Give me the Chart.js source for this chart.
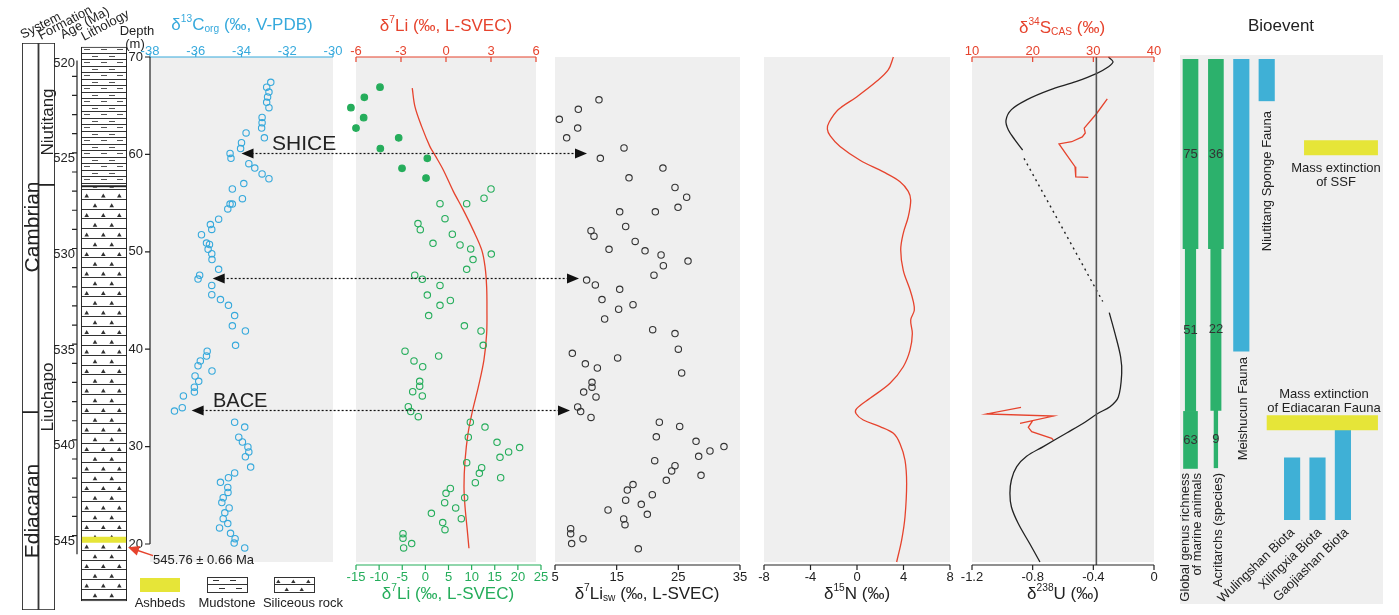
<!DOCTYPE html>
<html><head><meta charset="utf-8">
<script src="https://cdn.jsdelivr.net/npm/chart.js@4.4.1/dist/chart.umd.min.js"></script>
<style>
html,body{margin:0;padding:0;background:#fff;width:1399px;height:615px;overflow:hidden;font-family:"Liberation Sans",Arial,sans-serif;}
#root{position:relative;width:1399px;height:615px;}
canvas{position:absolute;}
.t{position:absolute;white-space:nowrap;line-height:1;color:#222;}
.t sup,.t sub{font-size:60%;line-height:0;}
.t sup{vertical-align:0.75em;}
.t sub{vertical-align:-0.25em;}
</style></head><body><div id="root"></div>
<script>
// ---------------- DATA ----------------
const depthTicks = [20, 30, 40, 50, 60, 70];
const ageTicks = [520, 525, 530, 535, 540, 545];
const ageMinorTicks = [521,522,523,524,525,526,527,528,529,530,531,532,533,534,535,536,537,538,539,540,541,542,543,544,545];
const c13Ticks = [-38, -36, -34, -32, -30];
const li7TopTicks = [-6, -3, 0, 3, 6];
const li7BottomTicks = [-15, -10, -5, 0, 5, 10, 15, 20, 25];
const liSwTicks = [5, 15, 25, 35];
const n15Ticks = [-8, -4, 0, 4, 8];
const s34Ticks = [10, 20, 30, 40];
const uTicks = [-1.2, -0.8, -0.4, 0];

const systemNames = ['Cambrian', 'Ediacaran'];
const systemRanges = [[33.55, 71.44], [13.22, 33.55]];
const formationNames = ['Niutitang', 'Liuchapo'];
const formationRanges = [[56.86, 71.44], [13.22, 56.86]];
const lithologyNames = ['Mudstone', 'Siliceous rock'];
const lithologyRanges = [[56.8, 71.44], [13.22, 56.8]];
const ashbedRange = [19.35, 20.0];
const ashbedAgeLabel = '545.76 ± 0.66 Ma';

const c13Values = [-32.72,-32.9,-32.8,-32.86,-32.9,-32.8,-33.1,-33.1,-33.12,-33.8,-33.0,-34.0,-34.04,-34.5,-34.46,-33.68,-33.42,-33.1,-32.8,-33.9,-34.4,-33.96,-34.4,-34.5,-34.6,-35.0,-35.36,-35.3,-35.75,-35.53,-35.4,-35.46,-35.3,-35.29,-35.0,-35.83,-35.9,-35.3,-35.3,-34.92,-34.57,-34.3,-34.4,-33.83,-34.26,-35.5,-35.53,-35.8,-35.9,-35.29,-36.03,-35.87,-36.06,-36.06,-36.54,-36.59,-36.93,-34.3,-33.86,-34.12,-33.96,-33.72,-33.68,-33.83,-33.6,-34.3,-34.57,-34.92,-34.6,-34.59,-34.8,-34.86,-34.54,-34.73,-34.8,-34.6,-34.96,-34.48,-34.28,-34.32,-33.86];
const c13Depths = [67.4,66.9,66.4,65.9,65.35,64.8,63.8,63.25,62.7,62.2,61.7,61.2,60.6,60.1,59.6,59.05,58.6,58.0,57.5,57.0,56.45,55.45,54.9,54.9,54.4,53.35,52.8,52.3,51.75,50.9,50.75,50.25,49.8,49.2,48.2,47.6,47.2,46.55,45.6,45.1,44.5,43.45,42.4,41.87,40.4,39.8,39.3,38.8,38.3,37.76,37.25,36.7,36.1,35.6,35.2,34.0,33.65,32.5,32.0,30.97,30.47,29.96,29.45,28.96,27.9,27.3,26.8,26.33,25.8,25.3,24.75,24.25,23.7,23.2,22.6,22.1,21.65,21.1,20.55,20.1,19.6];

const li7FilledValues = [-9.81,-13.2,-16.1,-13.34,-15.0,-5.77,-9.74,0.42,-5.05,0.14];
const li7FilledDepths = [66.9,65.86,64.8,63.77,62.7,61.7,60.6,59.6,58.57,57.57];
const li7OpenValues = [14.19,12.68,3.16,8.93,4.24,-1.6,-1.1,5.83,1.65,7.49,9.8,14.25,10.3,8.93,-2.3,-0.66,3.16,0.42,5.4,3.16,0.71,8.43,12.03,12.5,-4.4,2.87,-2.46,-0.58,-1.23,-1.23,-2.74,-0.66,-3.69,-3.17,-1.53,9.72,12.89,9.28,15.49,20.38,18.0,16.13,8.93,12.17,11.67,16.28,10.8,5.4,4.46,8.5,4.17,6.55,1.3,7.77,3.75,4.24,-4.84,-4.84,-2.96,-4.7];
const li7OpenDepths = [56.45,55.5,54.94,54.94,53.4,52.9,52.27,51.8,50.87,50.7,50.3,49.77,49.2,48.2,47.6,47.18,46.55,45.56,45.0,44.5,43.45,42.4,41.87,40.4,39.8,39.3,38.8,38.2,36.7,36.2,35.64,35.2,34.1,33.6,33.07,32.5,32.0,30.96,30.44,29.9,29.45,28.9,28.35,27.84,27.26,26.8,26.3,25.7,25.2,24.75,24.24,23.7,23.15,22.6,22.2,21.47,21.06,20.6,20.04,19.6];
const li7CurveValues = [-2.25,-2.07,-1.62,-1.07,-0.73,-0.18,0.49,1.15,1.82,2.38,2.6,2.71,2.73,2.71,2.53,2.16,1.78,1.47,1.27,1.2,1.27,1.42,1.53];
const li7CurveDepths = [66.8,64.9,62.85,60.8,59.9,58.4,56.2,54.3,52.2,50.2,48.5,46.4,44.0,41.6,38.9,36.15,33.76,31.36,28.6,25.9,23.8,21.4,19.56];

const liSwValues = [12.13,8.78,5.7,8.68,6.89,16.19,12.35,22.5,17.0,24.46,26.35,24.95,15.49,21.27,16.46,10.84,11.32,18.0,13.76,19.6,22.2,26.57,22.57,21.05,10.13,11.54,15.49,12.62,17.65,15.32,13.05,20.84,24.46,25.0,7.81,15.16,9.92,11.87,25.54,11.0,11.0,9.65,11.65,8.68,9.16,10.84,21.92,25.22,21.43,27.87,32.4,30.13,28.3,21.17,24.46,23.92,28.68,23.05,17.65,16.73,20.78,16.46,18.99,13.6,19.97,16.14,16.35,7.54,7.54,9.54,7.7,18.51];
const liSwDepths = [65.6,64.63,63.6,62.7,61.7,60.66,59.6,58.6,57.6,56.6,55.6,54.57,54.1,54.1,52.6,52.17,51.6,51.07,50.25,50.1,49.67,49.05,48.57,47.6,47.1,46.6,46.15,45.1,44.57,44.1,43.1,42.0,41.6,40.0,39.58,39.1,38.5,38.07,37.56,36.6,36.1,35.6,35.1,34.07,33.6,33.0,32.5,32.07,31.0,30.54,30.0,29.55,29.0,28.55,28.04,27.5,27.05,26.54,26.1,25.54,25.06,24.5,24.07,23.49,23.05,22.57,21.98,21.57,21.06,20.55,20.04,19.5];

const n15Values = [3.13,2.7,1.69,-0.03,-1.6,-2.4,-2.55,-2.3,-1.46,0.26,2.27,3.7,4.41,4.62,4.41,3.98,3.76,3.98,4.56,4.84,4.93,4.62,4.76,4.56,3.98,2.84,1.12,-0.03,-0.09,0.54,1.98,3.13,3.7,4.13,4.27,4.13,3.84,3.41];
const n15Depths = [70.0,68.7,67.5,65.9,64.6,63.3,62.6,61.9,60.8,59.4,58.2,57.2,56.2,55.3,53.6,51.9,50.2,48.1,46.1,44.9,44.0,43.0,41.6,39.9,38.2,36.5,34.96,33.9,33.4,32.73,32.05,31.36,30.3,28.6,26.2,22.8,20.4,18.15];

const uUpperValues = [-0.30,-0.27,-0.30,-0.38,-0.51,-0.69,-0.84,-0.94,-0.976,-0.96,-0.917,-0.866];
const uUpperDepths = [70.0,69.5,69.0,68.3,67.5,66.6,65.6,64.6,63.5,62.5,61.5,60.45];
const uGapValues = [-0.857, -0.338];
const uGapDepths = [59.6, 44.9];
const uLowerValues = [-0.295,-0.257,-0.22,-0.213,-0.235,-0.29,-0.371,-0.466,-0.576,-0.73,-0.84,-0.905,-0.94,-0.95,-0.94,-0.895,-0.818,-0.752];
const uLowerDepths = [43.75,41.6,39.2,37.5,35.1,34.1,33.4,32.4,31.4,30.0,29.0,27.94,26.6,25.2,23.8,22.1,20.0,18.15];
const uReference = -0.38;
const s34UpperValues = [32.3,30.55,28.5,28.67,28.18,26.43,24.34,25.6,26.98,27.1,29.17];
const s34UpperDepths = [65.7,64.2,62.7,62.2,61.8,61.3,61.07,59.94,58.74,57.7,57.65];
const s34LowerValues = [18.08,12.42,23.4,17.91,20.0,19.28,19.84,23.14,23.4];
const s34LowerDepths = [34.03,33.35,33.14,32.39,32.66,31.98,31.53,30.85,30.68];

const bioColumns = ['Global genus richness of marine animals','Acritarchs (species)','Meishucun Fauna','Niutitang Sponge Fauna','Wulingshan Biota','Xilingxia Biota','Gaojiashan Biota'];
const genusRanges = [[50.26, 69.76], [33.48, 50.26], [27.6, 33.48]];
const genusCounts = [75, 51, 63];
const acritarchRanges = [[50.26, 69.76], [33.59, 50.26], [27.67, 33.59]];
const acritarchCounts = [36, 22, 9];
const faunaRanges = [[39.68, 69.76], [65.48, 69.76], [22.33, 28.7], [22.33, 28.7], [22.33, 31.53]];
const extinctionNames = ['Mass extinction of SSF', 'Mass extinction of Ediacaran Fauna'];
const extinctionDepths = [60.64, 32.3];
const extinctionSpans = [[4.47, 7.38], [3.0, 7.38]];

const arrowLabels = ['SHICE', '', 'BACE'];
const arrowDepths = [60.1, 47.34, 33.76];
const arrowC13Ends = [-34.0, -35.26, -36.18];
const arrowSwEnds = [10.19, 8.89, 7.43];

// ---------------- STYLE ----------------
const GREEN='#25ad5b', GREEN_BAR='#2cb16c', BLUE='#36a9dc', BLUE_BAR='#3fb0d6', RED='#e6432d', YELLOW='#e6e538', GRAY='#efefef', INK='#222';
const PX_PER_M = 9.74;
const DMIN = 70 - 505 / PX_PER_M;
const TOP_PAD = -2, BOT_PAD = 8;
const PM = { l: 30, r: 30, t: 57, b: 53 };
Chart.defaults.font.family = '"Liberation Sans", Arial, sans-serif';
Chart.defaults.font.size = 13;
Chart.defaults.color = INK;
Chart.defaults.plugins.legend.display = false;
Chart.defaults.plugins.tooltip.enabled = false;

const root = document.getElementById('root');
const reg = {};
const axisSpecs = {};
const bgSpecs = {};

const axisDraw = { id: 'axisDraw', afterDraw(chart) {
  const specs = axisSpecs[chart.canvas.id]; if (!specs) return;
  const ctx = chart.ctx, ca = chart.chartArea;
  specs.forEach(a => {
    const s = chart.scales[a.scale]; const pos = s.position; const off = a.offset || 0;
    const edge = pos === 'top' ? ca.top - off : pos === 'bottom' ? ca.bottom + off : pos === 'left' ? ca.left - off : ca.right + off;
    const outward = (pos === 'top' || pos === 'left') ? -1 : 1;
    const dir = a.dir === 'in' ? -outward : outward;
    const horiz = pos === 'top' || pos === 'bottom';
    ctx.save(); ctx.strokeStyle = a.color; ctx.lineWidth = a.width || 1.2;
    ctx.beginPath();
    const seg = (p, e0, e1) => { if (horiz) { ctx.moveTo(p, e0); ctx.lineTo(p, e1); } else { ctx.moveTo(e0, p); ctx.lineTo(e1, p); } };
    const p0 = s.getPixelForValue(a.from), p1 = s.getPixelForValue(a.to);
    if (horiz) { ctx.moveTo(p0, edge); ctx.lineTo(p1, edge); } else { ctx.moveTo(edge, p0); ctx.lineTo(edge, p1); }
    (a.ticks || []).forEach(v => seg(s.getPixelForValue(v), edge, edge + dir * (a.len || 5)));
    (a.minor || []).forEach(v => seg(s.getPixelForValue(v), edge, edge + dir * (a.minorLen || a.len || 5)));
    ctx.stroke(); ctx.restore();
  });
}};
const bgPlugin = { id: 'bgfill', beforeDraw(chart) {
  const spec = bgSpecs[chart.canvas.id]; if (!spec) return;
  const ca = chart.chartArea; let l = ca.left, r = ca.right;
  if (spec.scale) { l = chart.scales[spec.scale].getPixelForValue(spec.from); r = chart.scales[spec.scale].getPixelForValue(spec.to); }
  const ctx = chart.ctx; ctx.save(); ctx.fillStyle = GRAY; ctx.fillRect(l, ca.top, r - l, ca.bottom - ca.top); ctx.restore();
}};
const countLabels = { id: 'countLabels', afterDatasetsDraw(chart) {
  if (chart.canvas.id !== 'F') return;
  const ctx = chart.ctx; ctx.save();
  ctx.font = '13px "Liberation Sans", Arial, sans-serif'; ctx.fillStyle = '#333'; ctx.textAlign = 'center'; ctx.textBaseline = 'middle';
  chart.data.datasets.forEach(ds => {
    if (ds.countLabel == null) return;
    const d = ds.data[0];
    ctx.fillText(String(ds.countLabel), chart.scales.x.getPixelForValue(d.x), chart.scales.y.getPixelForValue((d.y[0] + d.y[1]) / 2));
  });
  ctx.restore();
}};
const arrowPlugin = { id: 'arrows', afterDraw(chart) {
  if (chart.canvas.id !== 'OV') return;
  const ctx = chart.ctx; const ox = reg.OV.left;
  const A = reg.A, C = reg.C, S2 = reg.S2;
  ctx.save();
  arrowDepths.forEach((d, i) => {
    const y = Math.round(chart.scales.y.getPixelForValue(d)) + 0.5;
    const xl = A.chart.scales.x.getPixelForValue(arrowC13Ends[i]) + A.left - ox;
    const xr = C.chart.scales.x.getPixelForValue(arrowSwEnds[i]) + C.left - ox;
    ctx.strokeStyle = '#111'; ctx.lineWidth = 1.2; ctx.setLineDash([2, 2]);
    ctx.beginPath(); ctx.moveTo(xl + 10, y); ctx.lineTo(xr - 10, y); ctx.stroke();
    ctx.setLineDash([]); ctx.fillStyle = '#111';
    ctx.beginPath(); ctx.moveTo(xl, y); ctx.lineTo(xl + 12, y - 5); ctx.lineTo(xl + 12, y + 5); ctx.closePath(); ctx.fill();
    ctx.beginPath(); ctx.moveTo(xr, y); ctx.lineTo(xr - 12, y - 5); ctx.lineTo(xr - 12, y + 5); ctx.closePath(); ctx.fill();
  });
  const ay = chart.scales.y.getPixelForValue((ashbedRange[0] + ashbedRange[1]) / 2);
  const ax = S2.chart.chartArea.right + S2.left - ox + 1;
  const tx = ax + 25, ty = ay + 8.5;
  const ang = Math.atan2(ty - ay, tx - ax);
  ctx.strokeStyle = RED; ctx.fillStyle = RED; ctx.lineWidth = 1.4;
  ctx.beginPath(); ctx.moveTo(tx, ty); ctx.lineTo(ax + 8 * Math.cos(ang), ay + 8 * Math.sin(ang)); ctx.stroke();
  ctx.beginPath(); ctx.moveTo(ax, ay);
  ctx.lineTo(ax + 11 * Math.cos(ang) - 5 * Math.sin(ang), ay + 11 * Math.sin(ang) + 5 * Math.cos(ang));
  ctx.lineTo(ax + 11 * Math.cos(ang) + 5 * Math.sin(ang), ay + 11 * Math.sin(ang) - 5 * Math.cos(ang));
  ctx.closePath(); ctx.fill();
  ctx.restore();
}};
Chart.register(axisDraw, bgPlugin, countLabels, arrowPlugin);

function build(name, area, m, cfg) {
  const cv = document.createElement('canvas');
  const W = area.r - area.l + m.l + m.r, H = area.b - area.t + m.t + m.b;
  cv.id = name; cv.width = W; cv.height = H;
  cv.style.left = (area.l - m.l) + 'px'; cv.style.top = (area.t - m.t) + 'px';
  cv.style.width = W + 'px'; cv.style.height = H + 'px';
  root.appendChild(cv);
  const used = { left: false, right: false, top: false, bottom: false };
  Object.values(cfg.options.scales).forEach(s => {
    if (s.display === false) return;
    const side = s.position; used[side] = true;
    s.afterFit = sc => {
      if (side === 'top') sc.height = m.t; else if (side === 'bottom') sc.height = m.b;
      else if (side === 'left') sc.width = m.l; else sc.width = m.r;
    };
  });
  cfg.options.layout = { padding: { left: used.left ? 0 : m.l, right: used.right ? 0 : m.r, top: used.top ? 0 : m.t, bottom: used.bottom ? 0 : m.b } };
  cfg.options.responsive = false; cfg.options.maintainAspectRatio = false; cfg.options.animation = false; cfg.options.events = [];
  reg[name] = { left: area.l - m.l, top: area.t - m.t };
  reg[name].chart = new Chart(cv.getContext('2d'), cfg);
  return reg[name].chart;
}
function axis(pos, min, max, ticks, o = {}) {
  return Object.assign({
    type: 'linear', position: pos, min, max,
    afterBuildTicks: s => { s.ticks = ticks.map(v => ({ value: v })); },
    ticks: { color: o.color || INK, font: { size: 13 }, padding: o.padding == null ? 2 : o.padding, autoSkip: false, maxRotation: 0, minRotation: 0, labelOffset: o.labelOffset || 0, callback: v => String(v) },
    grid: { display: false, drawTicks: false }, border: { display: false }
  }, o.extra || {});
}
function hidden(pos, min, max, extra = {}) { return Object.assign({ type: 'linear', position: pos, min, max, display: false, offset: false }, extra); }
function pts(xs, ys) { return xs.map((v, i) => ({ x: v, y: ys[i] })); }
function openPts(xs, ys, color, extra = {}) {
  return Object.assign({ data: pts(xs, ys), showLine: false, pointRadius: 3.2, pointBorderWidth: 1.1, pointBorderColor: color, pointBackgroundColor: 'rgba(0,0,0,0)', clip: false }, extra);
}
function curve(xs, ys, color, extra = {}) {
  return Object.assign({ data: pts(xs, ys), showLine: true, pointRadius: 0, borderColor: color, borderWidth: 1.3, tension: 0.35, fill: false, clip: false }, extra);
}

// ---------- patterns ----------
function makeTile(kind) {
  const c = document.createElement('canvas'); c.width = 46; c.height = 39;
  const g = c.getContext('2d'); g.fillStyle = '#fff'; g.fillRect(0, 0, 46, 39);
  if (kind === 'mud') {
    for (let i = 0; i < 6; i++) {
      const y0 = i * 6.5;
      g.strokeStyle = '#333'; g.lineWidth = 1;
      g.beginPath(); g.moveTo(0, Math.round(y0) + 0.5); g.lineTo(46, Math.round(y0) + 0.5); g.stroke();
      g.strokeStyle = '#555';
      const dy = Math.round(y0 + 3.25) + 0.5;
      (i % 2 ? [11, 28] : [3, 20, 36]).forEach(x => { g.beginPath(); g.moveTo(x, dy); g.lineTo(x + 6, dy); g.stroke(); });
    }
  } else {
    for (let i = 0; i < 4; i++) {
      const y0 = i * 9.75;
      g.strokeStyle = '#333'; g.lineWidth = 1;
      g.beginPath(); g.moveTo(0, Math.round(y0) + 0.5); g.lineTo(46, Math.round(y0) + 0.5); g.stroke();
      g.fillStyle = '#333';
      (i % 2 ? [14, 30.7] : [5.7, 22.3, 38.3]).forEach(x => { const b = y0 + 8.6; g.beginPath(); g.moveTo(x, b - 4); g.lineTo(x + 2.3, b); g.lineTo(x - 2.3, b); g.closePath(); g.fill(); });
    }
  }
  return c;
}
const tmpCtx = document.createElement('canvas').getContext('2d');
const mudPattern = tmpCtx.createPattern(makeTile('mud'), 'repeat');
const silPattern = tmpCtx.createPattern(makeTile('sil'), 'repeat');

// ---------- S1: System / Formation ----------
const S_TOP = 70 + 14 / PX_PER_M, S_BOT = 70 - 553 / PX_PER_M;
build('S1', { l: 22, r: 55, t: 43, b: 610 }, { l: 10, r: 10, t: 10, b: 5 }, {
  type: 'bar',
  data: { labels: ['System', 'Formation'], datasets: [
    ...systemNames.map((n, i) => ({ label: n, data: [{ x: 'System', y: systemRanges[i] }], backgroundColor: '#fff', borderColor: INK, borderWidth: 1.2, borderSkipped: false, grouped: false, barPercentage: 1, categoryPercentage: 1 })),
    ...formationNames.map((n, i) => ({ label: n, data: [{ x: 'Formation', y: formationRanges[i] }], backgroundColor: '#fff', borderColor: INK, borderWidth: 1.2, borderSkipped: false, grouped: false, barPercentage: 1, categoryPercentage: 1 }))
  ]},
  options: { scales: { x: { type: 'category', position: 'bottom', display: false }, y: hidden('left', S_BOT, S_TOP) } }
});

// ---------- S2: Age + Lithology ----------
const AGE_TOP = 520 + (43 - 53.6) / 19.57, AGE_BOT = 520 + (610 - 53.6) / 19.57;
axisSpecs.S2 = [{ scale: 'yAge', from: 520 + (57 - 53.6) / 19.57, to: 520 + (562 - 53.6) / 19.57, minor: ageMinorTicks, dir: 'out', len: 5, offset: 4, color: INK }];
build('S2', { l: 81, r: 127, t: 43, b: 610 }, { l: 46, r: 10, t: 10, b: 5 }, {
  type: 'bar',
  data: { labels: ['Lithology'], datasets: [
    { label: 'Ashbeds', data: [{ x: 'Lithology', y: ashbedRange }], backgroundColor: YELLOW, borderWidth: 0, grouped: false, barPercentage: 0.96, categoryPercentage: 1, order: 0 },
    { label: lithologyNames[0], data: [{ x: 'Lithology', y: lithologyRanges[0] }], backgroundColor: mudPattern, borderColor: INK, borderWidth: 1.3, borderSkipped: false, grouped: false, barPercentage: 1, categoryPercentage: 1, order: 1 },
    { label: lithologyNames[1], data: [{ x: 'Lithology', y: lithologyRanges[1] }], backgroundColor: silPattern, borderColor: INK, borderWidth: 1.3, borderSkipped: false, grouped: false, barPercentage: 1, categoryPercentage: 1, order: 2 }
  ]},
  options: { scales: {
    x: { type: 'category', position: 'bottom', display: false },
    y: hidden('right', S_BOT, S_TOP),
    yAge: axis('left', AGE_TOP, AGE_BOT, ageTicks, { padding: 6, labelOffset: 6, extra: { reverse: true } })
  } }
});

// ---------- A: d13C ----------
axisSpecs.A = [
  { scale: 'x', from: -38, to: -30, ticks: c13Ticks, dir: 'out', len: 4, color: BLUE },
  { scale: 'y', from: 20, to: 70, ticks: depthTicks, dir: 'out', len: 5, color: INK }
];
bgSpecs.A = {};
build('A', { l: 150, r: 333, t: 57, b: 562 }, { l: 50, r: 30, t: 57, b: 53 }, {
  type: 'scatter',
  data: { datasets: [openPts(c13Values, c13Depths, BLUE)] },
  options: { scales: { x: axis('top', -38, -30, c13Ticks, { color: BLUE, padding: TOP_PAD }), y: axis('left', DMIN, 70, depthTicks, { padding: 7 }) } }
});

// ---------- B: d7Li ----------
axisSpecs.B = [
  { scale: 'x2', from: -6, to: 6, ticks: li7TopTicks, dir: 'in', len: 5, color: RED },
  { scale: 'x', from: -15, to: 25, ticks: li7BottomTicks, dir: 'out', len: 5, color: GREEN, offset: 3 }
];
bgSpecs.B = { scale: 'x2', from: -6, to: 6 };
build('B', { l: 356, r: 541, t: 57, b: 562 }, PM, {
  type: 'scatter',
  data: { datasets: [
    openPts(li7FilledValues, li7FilledDepths, GREEN, { pointBackgroundColor: GREEN, pointRadius: 3.3 }),
    openPts(li7OpenValues, li7OpenDepths, GREEN),
    curve(li7CurveValues, li7CurveDepths, RED, { xAxisID: 'x2' })
  ]},
  options: { scales: {
    x: axis('bottom', -15, 25, li7BottomTicks, { color: GREEN, padding: BOT_PAD }),
    x2: axis('top', -6, -6 + 185 / 15, li7TopTicks, { color: RED, padding: TOP_PAD }),
    y: hidden('left', DMIN, 70)
  } }
});

// ---------- C: d7Li sw ----------
axisSpecs.C = [{ scale: 'x', from: 5, to: 35, ticks: liSwTicks, dir: 'out', len: 5, color: INK, offset: 3 }];
bgSpecs.C = {};
build('C', { l: 555, r: 740, t: 57, b: 562 }, PM, {
  type: 'scatter',
  data: { datasets: [openPts(liSwValues, liSwDepths, '#333')] },
  options: { scales: { x: axis('bottom', 5, 35, liSwTicks, { padding: BOT_PAD }), y: hidden('left', DMIN, 70) } }
});

// ---------- D: d15N ----------
axisSpecs.D = [{ scale: 'x', from: -8, to: 8, ticks: n15Ticks, dir: 'out', len: 5, color: INK, offset: 3 }];
bgSpecs.D = {};
build('D', { l: 764, r: 950, t: 57, b: 562 }, PM, {
  type: 'scatter',
  data: { datasets: [curve(n15Values, n15Depths, RED)] },
  options: { scales: { x: axis('bottom', -8, 8, n15Ticks, { padding: BOT_PAD }), y: hidden('left', DMIN, 70) } }
});

// ---------- E: d34S / d238U ----------
axisSpecs.E = [
  { scale: 'xS', from: 10, to: 40, ticks: s34Ticks, dir: 'in', len: 5, color: RED },
  { scale: 'x', from: -1.2, to: 0, ticks: uTicks, dir: 'out', len: 5, color: INK, offset: 3 }
];
bgSpecs.E = {};
build('E', { l: 972, r: 1154, t: 57, b: 562 }, PM, {
  type: 'scatter',
  data: { datasets: [
    curve([uReference, uReference], [70, 70 - 508 / PX_PER_M], '#555', { borderWidth: 1.6, tension: 0 }),
    curve(uUpperValues, uUpperDepths, INK),
    curve(uGapValues, uGapDepths, INK, { borderDash: [2, 4], tension: 0, borderWidth: 1.4 }),
    curve(uLowerValues, uLowerDepths, INK),
    curve(s34UpperValues, s34UpperDepths, RED, { xAxisID: 'xS', tension: 0 }),
    curve(s34LowerValues, s34LowerDepths, RED, { xAxisID: 'xS', tension: 0 })
  ]},
  options: { scales: {
    x: axis('bottom', -1.2, 0, uTicks, { padding: BOT_PAD }),
    xS: axis('top', 10, 40, s34Ticks, { color: RED, padding: TOP_PAD }),
    y: hidden('left', DMIN, 70)
  } }
});

// ---------- F: Bioevent ----------
bgSpecs.F = {};
const barDs = (col, range, color, thick, count) => ({ type: 'bar', data: [{ x: col, y: range }], backgroundColor: color, barThickness: thick, grouped: false, borderWidth: 0, countLabel: count });
const genusWidths = [15, 10.5, 14], acritarchWidths = [15, 10.3, 3.7];
build('F', { l: 1180, r: 1383, t: 55, b: 604 }, { l: 10, r: 10, t: 10, b: 10 }, {
  type: 'bar',
  data: { datasets: [
    ...extinctionDepths.map((d, i) => ({ type: 'line', data: [{ x: extinctionSpans[i][0], y: d }, { x: extinctionSpans[i][1], y: d }], borderColor: YELLOW, borderWidth: 15, borderCapStyle: 'butt', pointRadius: 0, fill: false })),
    ...genusRanges.map((r, i) => barDs(0, r, GREEN_BAR, genusWidths[i], genusCounts[i])),
    ...acritarchRanges.map((r, i) => barDs(1, r, GREEN_BAR, acritarchWidths[i], acritarchCounts[i])),
    ...faunaRanges.map((r, i) => barDs(i + 2, r, BLUE_BAR, 15.5, null))
  ]},
  options: { scales: {
    x: hidden('bottom', (1180 - 1190.5) / 25.4, (1383 - 1190.5) / 25.4),
    y: hidden('left', 70 - 549 / PX_PER_M, 70 + 2 / PX_PER_M)
  } }
});

// ---------- Overlay (arrows) ----------
build('OV', { l: 150, r: 740, t: 57, b: 562 }, { l: 50, r: 10, t: 57, b: 53 }, {
  type: 'scatter', data: { datasets: [] },
  options: { scales: { x: hidden('bottom', 0, 1), y: hidden('left', DMIN, 70) } }
});

// ---------- text ----------
function label(html, x, y, o = {}) {
  const d = document.createElement('div'); d.className = 't'; d.innerHTML = html;
  d.style.left = x + 'px'; d.style.top = y + 'px'; d.style.fontSize = (o.size || 13) + 'px';
  if (o.color) d.style.color = o.color;
  if (o.lh) d.style.lineHeight = o.lh + 'px';
  if (o.align) d.style.textAlign = o.align;
  const rot = o.rot || 0; const anchor = o.anchor || 'center';
  if (anchor === 'center') d.style.transform = `translate(-50%,-50%) rotate(${rot}deg)`;
  else { d.style.transformOrigin = '0 0'; d.style.transform = `rotate(${rot}deg) translate(${anchor === 'end' ? '-100%' : '0'},-50%)`; }
  root.appendChild(d); return d;
}
label('δ<sup>13</sup>C<sub>org</sub> (‰, V-PDB)', 242, 24, { size: 17, color: BLUE });
label('δ<sup>7</sup>Li (‰, L-SVEC)', 446, 25, { size: 17, color: RED });
label('δ<sup>34</sup>S<sub>CAS</sub> (‰)', 1062, 27, { size: 17, color: RED });
label('Bioevent', 1281, 25, { size: 17 });
label('δ<sup>7</sup>Li (‰, L-SVEC)', 448, 593, { size: 17, color: GREEN });
label('δ<sup>7</sup>Li<sub>sw</sub> (‰, L-SVEC)', 647, 593, { size: 17 });
label('δ<sup>15</sup>N (‰)', 857, 593, { size: 17 });
label('δ<sup>238</sup>U (‰)', 1063, 593, { size: 17 });
label('Depth', 137, 30); label('(m)', 135, 43);
label('System', 21, 35, { anchor: 'start', rot: -27 });
label('Formation', 39, 36, { anchor: 'start', rot: -28 });
label('Age (Ma)', 61, 35, { anchor: 'start', rot: -28 });
label('Lithology', 82, 37, { anchor: 'start', rot: -28 });
label(systemNames[0], 31, 227, { size: 21, rot: -90 });
label(systemNames[1], 31, 511, { size: 21, rot: -90 });
label(formationNames[0], 47, 122, { size: 17, rot: -90 });
label(formationNames[1], 47, 397, { size: 17, rot: -90 });
label(arrowLabels[0], 272, 142, { size: 21, anchor: 'start' });
label(arrowLabels[2], 213, 400, { size: 20, anchor: 'start' });
label(ashbedAgeLabel, 153, 559, { anchor: 'start' });
// legend
const sw = document.createElement('div'); sw.style.cssText = `position:absolute;left:140px;top:578px;width:40px;height:14px;background:${YELLOW}`; root.appendChild(sw);
function swatch(kind, x) {
  const c = document.createElement('canvas'); c.width = 41; c.height = 16; c.style.left = x + 'px'; c.style.top = '577px';
  const g = c.getContext('2d'); g.fillStyle = '#fff'; g.fillRect(0, 0, 41, 16);
  g.strokeStyle = '#333'; g.lineWidth = 1; g.strokeRect(0.5, 0.5, 40, 15);
  g.beginPath(); g.moveTo(0, 7.5); g.lineTo(41, 7.5); g.stroke();
  if (kind === 'mud') {
    [[6, 3.5], [23, 3.5], [12, 11.5], [29, 11.5]].forEach(([x, y]) => { g.beginPath(); g.moveTo(x, y); g.lineTo(x + 6, y); g.stroke(); });
  } else {
    g.fillStyle = '#333';
    [[4.3, 6], [19.3, 6], [34.3, 6], [12.7, 14], [27.7, 14]].forEach(([x, b]) => { g.beginPath(); g.moveTo(x, b - 3.5); g.lineTo(x + 2.2, b); g.lineTo(x - 2.2, b); g.closePath(); g.fill(); });
  }
  root.appendChild(c);
}
swatch('mud', 207); swatch('sil', 274);
label('Ashbeds', 160, 602); label(lithologyNames[0], 227, 602); label(lithologyNames[1], 303, 602);
// bioevent labels
label('Mass extinction<br>of SSF', 1336, 175, { lh: 14, align: 'center' });
label('Mass extinction<br>of Ediacaran Fauna', 1324, 401, { lh: 14, align: 'center' });
label(bioColumns[3], 1266, 111, { anchor: 'end', rot: -90 });
label(bioColumns[2], 1242, 357, { anchor: 'end', rot: -90 });
label('Global genus richness<br>of marine animals', 1191, 473, { anchor: 'end', rot: -90, lh: 12, align: 'right' });
label(bioColumns[1], 1217, 473, { anchor: 'end', rot: -90 });
label(bioColumns[4], 1292, 530, { anchor: 'end', rot: -44 });
label(bioColumns[5], 1319, 530, { anchor: 'end', rot: -44 });
label(bioColumns[6], 1346, 530, { anchor: 'end', rot: -44 });
</script></body></html>
